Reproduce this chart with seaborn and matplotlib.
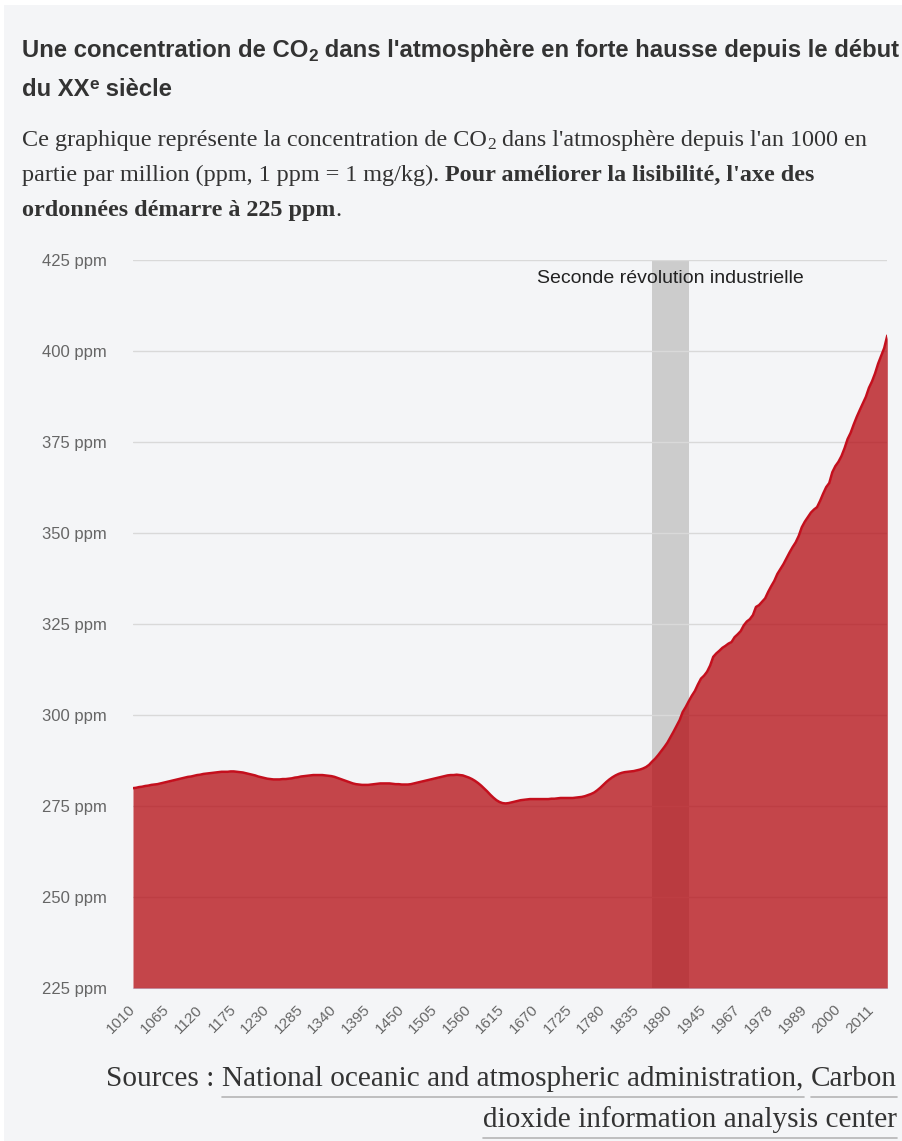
import matplotlib
matplotlib.use("Agg")
import matplotlib.pyplot as plt
import matplotlib.transforms as mtransforms
from matplotlib.lines import Line2D
from matplotlib.patches import Rectangle
import seaborn as sns
import pandas as pd

# ------------------------------------------------------------------ data
# reconstructed (ice-core) series, 5-year steps 1010-1955
years_early = list(range(1010, 1960, 5))
co2_early = [
    279.9, 280.0, 280.2, 280.3, 280.5, 280.6, 280.8, 280.9, 281.0, 281.2,   # 1010-1055
    281.4, 281.6, 281.8, 282.0, 282.2, 282.4, 282.6, 282.8, 283.0, 283.1,   # 1060-1105
    283.3, 283.5, 283.6, 283.8, 283.9, 284.0, 284.1, 284.2, 284.3, 284.4,   # 1110-1155
    284.4, 284.4, 284.5, 284.5, 284.4, 284.3, 284.2, 284.0, 283.8, 283.6,   # 1160-1205
    283.4, 283.1, 282.9, 282.7, 282.5, 282.4, 282.3, 282.3, 282.3, 282.4,   # 1210-1255
    282.4, 282.5, 282.6, 282.8, 282.9, 283.1, 283.2, 283.3, 283.4, 283.5,   # 1260-1305
    283.5, 283.5, 283.5, 283.4, 283.3, 283.2, 283.0, 282.7, 282.4, 282.1,   # 1310-1355
    281.8, 281.5, 281.2, 281.0, 280.9, 280.8, 280.8, 280.8, 280.9, 281.0,   # 1360-1405
    281.1, 281.2, 281.2, 281.2, 281.2, 281.1, 281.0, 281.0, 280.9, 280.9,   # 1410-1455
    280.9, 281.0, 281.2, 281.4, 281.6, 281.8, 282.0, 282.2, 282.4, 282.6,   # 1460-1505
    282.8, 283.0, 283.2, 283.4, 283.5, 283.5, 283.6, 283.5, 283.4, 283.1,   # 1510-1555
    282.8, 282.4, 281.9, 281.3, 280.6, 279.8, 279.0, 278.1, 277.3, 276.6,   # 1560-1605
    276.1, 275.8, 275.7, 275.8, 276.0, 276.2, 276.4, 276.6, 276.7, 276.8,   # 1610-1655
    276.9, 276.9, 276.9, 276.9, 276.9, 276.9, 276.9, 277.0, 277.0, 277.1,   # 1660-1705
    277.2, 277.2, 277.2, 277.2, 277.2, 277.3, 277.4, 277.5, 277.7, 278.0,   # 1710-1755
    278.3, 278.7, 279.3, 280.0, 280.8, 281.6, 282.3, 282.9, 283.4, 283.8,   # 1760-1805
    284.1, 284.3, 284.4, 284.5, 284.6, 284.8, 285.0, 285.3, 285.7, 286.3,   # 1810-1855
    287.2, 288.0, 289.0, 290.1, 291.2, 292.4, 293.9, 295.4, 297.0, 298.6,   # 1860-1905
    300.8, 302.2, 303.8, 305.3, 306.6, 308.4, 310.0, 310.8, 311.9, 313.6,   # 1910-1955
]
# annual measurements 1959-2016
years_recent = list(range(1959, 2017))
co2_recent = [
    315.97, 316.91, 317.64, 318.45, 318.99, 319.62, 320.04, 321.38, 322.16, 323.04,
    324.62, 325.68, 326.32, 327.45, 329.68, 330.18, 331.11, 332.04, 333.83, 335.40,
    336.84, 338.75, 340.11, 341.45, 343.05, 344.65, 346.12, 347.42, 349.19, 351.57,
    353.12, 354.39, 355.61, 356.45, 357.10, 358.83, 360.82, 362.61, 363.73, 366.70,
    368.38, 369.55, 371.14, 373.28, 375.80, 377.52, 379.80, 381.90, 383.79, 385.60,
    387.43, 389.90, 391.65, 393.85, 396.52, 398.65, 400.83, 404.24,
]
tick_years = [1010, 1065, 1120, 1175, 1230, 1285, 1340, 1395, 1450, 1505, 1560,
              1615, 1670, 1725, 1780, 1835, 1890, 1945, 1967, 1978, 1989, 2000, 2011]
y_ticks = [225, 250, 275, 300, 325, 350, 375, 400, 425]
band_years = [1860, 1920]
band_label = "Seconde révolution industrielle"

years = years_early + years_recent
co2 = co2_early + co2_recent
df = pd.DataFrame({"year": years, "co2": co2})
df["pos"] = range(len(df))
pos_of = dict(zip(df["year"], df["pos"]))

# ------------------------------------------------------------------ style
W, H = 902, 1141
BG = "#f4f5f7"
SANS = "Liberation Sans"
SERIF = "Liberation Serif"
TXT = "#333333"

sns.set_style("white")
plt.rcParams["font.family"] = [SANS, "DejaVu Sans"]

fig = plt.figure(figsize=(W / 100, H / 100), dpi=100)
fig.patch.set_facecolor("white")
fig.add_artist(Rectangle((4 / W, 0), 1, 1 - 5 / H, transform=fig.transFigure,
                         facecolor=BG, edgecolor="none", zorder=-10))

ax = fig.add_axes([133 / W, (H - 988) / H, (887.3 - 133) / W, (988 - 260) / H])
ax.set_facecolor("none")

# band
ax.axvspan(pos_of[band_years[0]], pos_of[band_years[1]], color="#cccccc", lw=0, zorder=0.3)
# area
ax.fill_between(df["pos"], df["co2"], y_ticks[0], color=(0.71, 0.05, 0.08),
                alpha=0.76, lw=0, zorder=2)
sns.lineplot(data=df, x="pos", y="co2", ax=ax, color="#c40f1d", lw=1.8, zorder=3)

ax.set_xlim(0, len(df) - 1)
ax.set_ylim(y_ticks[0], y_ticks[-1])
ax.set_xlabel("")
ax.set_ylabel("")
ax.set_yticks(y_ticks)
ax.set_yticklabels([f"{v} ppm" for v in y_ticks])
ax.set_xticks([pos_of[y] for y in tick_years])
ax.set_xticklabels([str(y) for y in tick_years], rotation=45, ha="right",
                   va="center", rotation_mode="anchor")
ax.tick_params(axis="y", length=0, pad=19, labelsize=12, labelcolor="#666666")
ax.tick_params(axis="x", length=9, width=1, color="#ccd6eb", pad=5,
               labelsize=11, labelcolor="#666666")
ax.set_axisbelow(True)
ax.yaxis.grid(True, color="#d9d9d9", lw=1)
ax.xaxis.grid(False)
for s in ["top", "right", "left"]:
    ax.spines[s].set_visible(False)
ax.spines["bottom"].set_color("#ccd6eb")
ax.spines["bottom"].set_zorder(1)

band_c = (pos_of[band_years[0]] + pos_of[band_years[1]]) / 2
ax.text(band_c, 0.975, band_label, transform=mtransforms.blended_transform_factory(ax.transData, ax.transAxes),
        ha="center", va="center", fontsize=14, color="#222222", family=SANS)

# ------------------------------------------------------------------ rich text helpers
fig.canvas.draw()
R = fig.canvas.get_renderer()


def width_of(s, **kw):
    t = fig.text(0, 0, s + "|", **kw)
    w1 = t.get_window_extent(R).width
    t.remove()
    t = fig.text(0, 0, "|", **kw)
    w2 = t.get_window_extent(R).width
    t.remove()
    return w1 - w2


def fit(s, target, **kw):
    return 10 * target / width_of(s, fontsize=10, **kw)


def rich(x, y, pieces, align="left"):
    widths = [width_of(t, **st) for t, st, dy in pieces]
    x0 = x if align == "left" else x - sum(widths)
    spans = []
    for (t, st, dy), w in zip(pieces, widths):
        fig.text(x0 / W, 1 - (y + dy) / H, t, va="baseline", ha="left", **st)
        spans.append((x0, x0 + w))
        x0 += w
    return spans


# title
ts = fit("Une concentration de CO2 dans l'atmosphère en forte hausse depuis le début", 884,
         family=SANS, weight="bold")
tb = dict(family=SANS, weight="bold", fontsize=ts, color=TXT)
tsm = dict(family=SANS, weight="bold", fontsize=ts * 0.72, color=TXT)
rich(22, 57, [("Une concentration de CO", tb, 0), ("2", tsm, 4),
              (" dans l'atmosphère en forte hausse depuis le début", tb, 0)])
rich(22, 96, [("du XX", tb, 0), ("e", tsm, -7), (" siècle", tb, 0)])

# subtitle
ss = fit("Ce graphique représente la concentration de CO2 dans l'atmosphère depuis l'an 1000 en", 848,
         family=SERIF)
sr = dict(family=SERIF, fontsize=ss, color=TXT)
sb = dict(family=SERIF, fontsize=ss, color=TXT, weight="bold")
ssm = dict(family=SERIF, fontsize=ss * 0.72, color=TXT)
rich(22, 146, [("Ce graphique représente la concentration de CO", sr, 0), ("2", ssm, 3),
               (" dans l'atmosphère depuis l'an 1000 en", sr, 0)])
rich(22, 181, [("partie par million (ppm, 1 ppm = 1 mg/kg). ", sr, 0),
               ("Pour améliorer la lisibilité, l'axe des", sb, 0)])
rich(22, 216, [("ordonnées démarre à 225 ppm", sb, 0), (".", sr, 0)])

# sources
fs = fit("Sources : National oceanic and atmospheric administration, Carbon", 789, family=SERIF)
fr = dict(family=SERIF, fontsize=fs, color=TXT)
sp1 = rich(897, 1086, [("Sources : ", fr, 0), ("National oceanic and atmospheric administration,", fr, 0),
                       (" ", fr, 0), ("Carbon", fr, 0)], align="right")
sp2 = rich(897, 1127, [("dioxide information analysis center", fr, 0)], align="right")
UL = "#b5b5b5"
for (a, b), yy in [(sp1[1], 1097), (sp1[3], 1097), (sp2[0], 1138)]:
    fig.add_artist(Line2D([a / W, b / W], [1 - yy / H, 1 - yy / H], transform=fig.transFigure,
                          color=UL, lw=1.2))

fig.savefig("out.png", dpi=100, facecolor=fig.get_facecolor())
